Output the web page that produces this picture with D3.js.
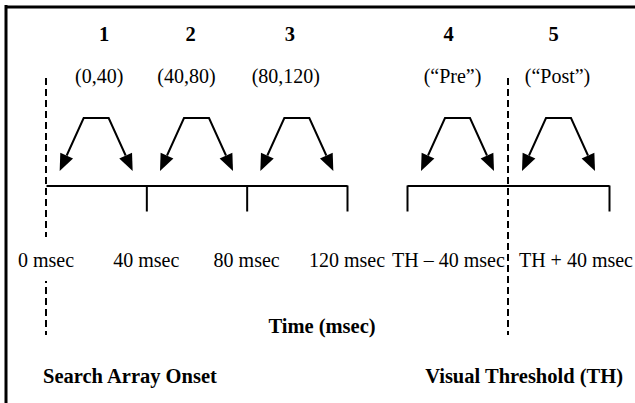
<!DOCTYPE html>
<html>
<head>
<meta charset="utf-8">
<script src="https://cdn.jsdelivr.net/npm/d3@7"></script>
<style>
  body { margin: 0; background: #fff; }
  text { font-family: "Liberation Serif", "Times New Roman", serif; fill: #000; }
</style>
</head>
<body>
<div id="chart"></div>
<script>
// bins of the analysis window; bins 4 and 5 are measured relative to TH
const binNumbers = ['1', '2', '3', '4', '5'];
const binLabels = ['(0,40)', '(40,80)', '(80,120)', '(\u201CPre\u201D)', '(\u201CPost\u201D)'];
const binStarts = [0, 40, 80, -40, 0];
const binEnds = [40, 80, 120, 0, 40];
const binAxis = ['onset', 'onset', 'onset', 'th', 'th'];

const onsetTicks = [0, 40, 80, 120];
const onsetTickLabels = ['0 msec', '40 msec', '80 msec', '120 msec'];
const thTicks = [-40, 40];
const thTickLabels = ['TH \u2013 40 msec', 'TH + 40 msec'];
const eventLabels = ['Search Array Onset', 'Visual Threshold (TH)'];
const axisTitle = 'Time (msec)';

const width = 635;
const height = 403;
const lineY = 186;
const fs = 20;
const fsBold = 20.5;

const svg = d3.select('#chart')
  .append('svg')
    .attr('width', width)
    .attr('height', height);

const onset = d3.scaleLinear().domain([0, 120]).range([46, 347]);
const th = d3.scaleLinear().domain([-40, 40]).range([407, 609]);
const scaleOf = { onset: onset, th: th };

// frame (top and left only)
svg.append('line')
    .attr('x1', 5).attr('x2', width).attr('y1', 7).attr('y2', 7)
    .attr('stroke', '#000').attr('stroke-width', 3);
svg.append('line')
    .attr('x1', 6).attr('x2', 6).attr('y1', 5).attr('y2', height)
    .attr('stroke', '#000').attr('stroke-width', 3);

// dashed event markers
const markerX = [onset(0), th(0)];
svg.selectAll('.marker')
  .data(markerX)
  .join('line')
    .attr('class', 'marker')
    .attr('x1', d => d).attr('x2', d => d)
    .attr('y1', 78).attr('y2', 335)
    .attr('stroke', '#000')
    .attr('stroke-width', 2)
    .attr('stroke-dasharray', '7,4');

// time lines
function timeAxis(scale, ticks) {
  return d3.axisBottom(scale)
    .tickValues(ticks)
    .tickSize(26)
    .tickSizeOuter(0)
    .tickFormat('');
}
const axes = [
  svg.append('g').call(timeAxis(onset, [40, 80, 120])),
  svg.append('g').call(timeAxis(th, thTicks))
];
axes.forEach(g => {
  g.attr('transform', `translate(0, ${lineY - 0.5})`);
  g.selectAll('path, line').attr('stroke', '#000').attr('stroke-width', 2);
});

function addLabel(x, y, text, anchor, bold) {
  const g = svg.append('g');
  const t = g.append('text')
      .attr('x', x).attr('y', y)
      .attr('text-anchor', anchor)
      .attr('font-size', bold ? fsBold : fs)
      .attr('font-weight', bold ? 'bold' : 'normal')
      .text(text);
  return { g: g, t: t };
}

// tick labels, with a white backing so the dashed marker breaks behind them
onsetTicks.forEach((v, i) => {
  const l = addLabel(onset(v), 267, onsetTickLabels[i], 'middle');
  const b = l.t.node().getBBox();
  l.g.insert('rect', 'text')
      .attr('x', b.x - 2).attr('y', b.y - 12)
      .attr('width', b.width + 4).attr('height', b.height + 22)
      .attr('fill', '#fff');
});
const thAnchor = ['start', 'end'];
const thDx = [-15, 24];
thTicks.forEach((v, i) => {
  addLabel(th(v) + thDx[i], 267, thTickLabels[i], thAnchor[i]);
});

addLabel(322, 333, axisTitle, 'middle', true);
addLabel(onset(0) - 3, 383, eventLabels[0], 'start', true);
addLabel(th(0) + 115, 383, eventLabels[1], 'end', true);

// bins: number, range label, and the up-and-over arrow glyph
const numberDx = [8, -6, -7, -9, -5];
const labelDx = [3, -10, -11, -5, -1];
const bins = binNumbers.map((n, i) => {
  const s = scaleOf[binAxis[i]];
  return { n: n, label: binLabels[i], i: i, mid: (s(binStarts[i]) + s(binEnds[i])) / 2 };
});

svg.selectAll('.num')
  .data(bins)
  .join('text')
    .attr('class', 'num')
    .attr('x', d => d.mid + numberDx[d.i])
    .attr('y', 41)
    .attr('text-anchor', 'middle')
    .attr('font-size', fsBold)
    .attr('font-weight', 'bold')
    .text(d => d.n);

svg.selectAll('.range')
  .data(bins)
  .join('text')
    .attr('class', 'range')
    .attr('x', d => d.mid + labelDx[d.i])
    .attr('y', 83)
    .attr('text-anchor', 'middle')
    .attr('font-size', fs)
    .text(d => d.label);

const topY = 118, tipY = 171, topHalf = 12.5, tipHalf = 36.5;
const headLen = 17, headW = 7;

function arrowPieces(c) {
  const legs = [
    [[c - topHalf, topY], [c - tipHalf, tipY]],
    [[c + topHalf, topY], [c + tipHalf, tipY]]
  ];
  return legs.map(([a, b]) => {
    const dx = b[0] - a[0], dy = b[1] - a[1];
    const len = Math.hypot(dx, dy);
    const ux = dx / len, uy = dy / len;
    const bx = b[0] - headLen * ux, by = b[1] - headLen * uy;
    return {
      line: [a, [bx, by]],
      head: [b, [bx + headW * uy, by - headW * ux], [bx - headW * uy, by + headW * ux]]
    };
  });
}

const glyph = svg.selectAll('.glyph')
  .data(bins)
  .join('g')
    .attr('class', 'glyph');

glyph.append('path')
    .attr('fill', 'none')
    .attr('stroke', '#000')
    .attr('stroke-width', 2)
    .attr('d', d => {
      const p = arrowPieces(d.mid);
      return d3.line()([p[0].line[1], p[0].line[0], p[1].line[0], p[1].line[1]]);
    });

glyph.selectAll('.head')
  .data(d => arrowPieces(d.mid))
  .join('path')
    .attr('class', 'head')
    .attr('fill', '#000')
    .attr('d', d => d3.line()(d.head) + 'Z');
</script>
</body>
</html>
